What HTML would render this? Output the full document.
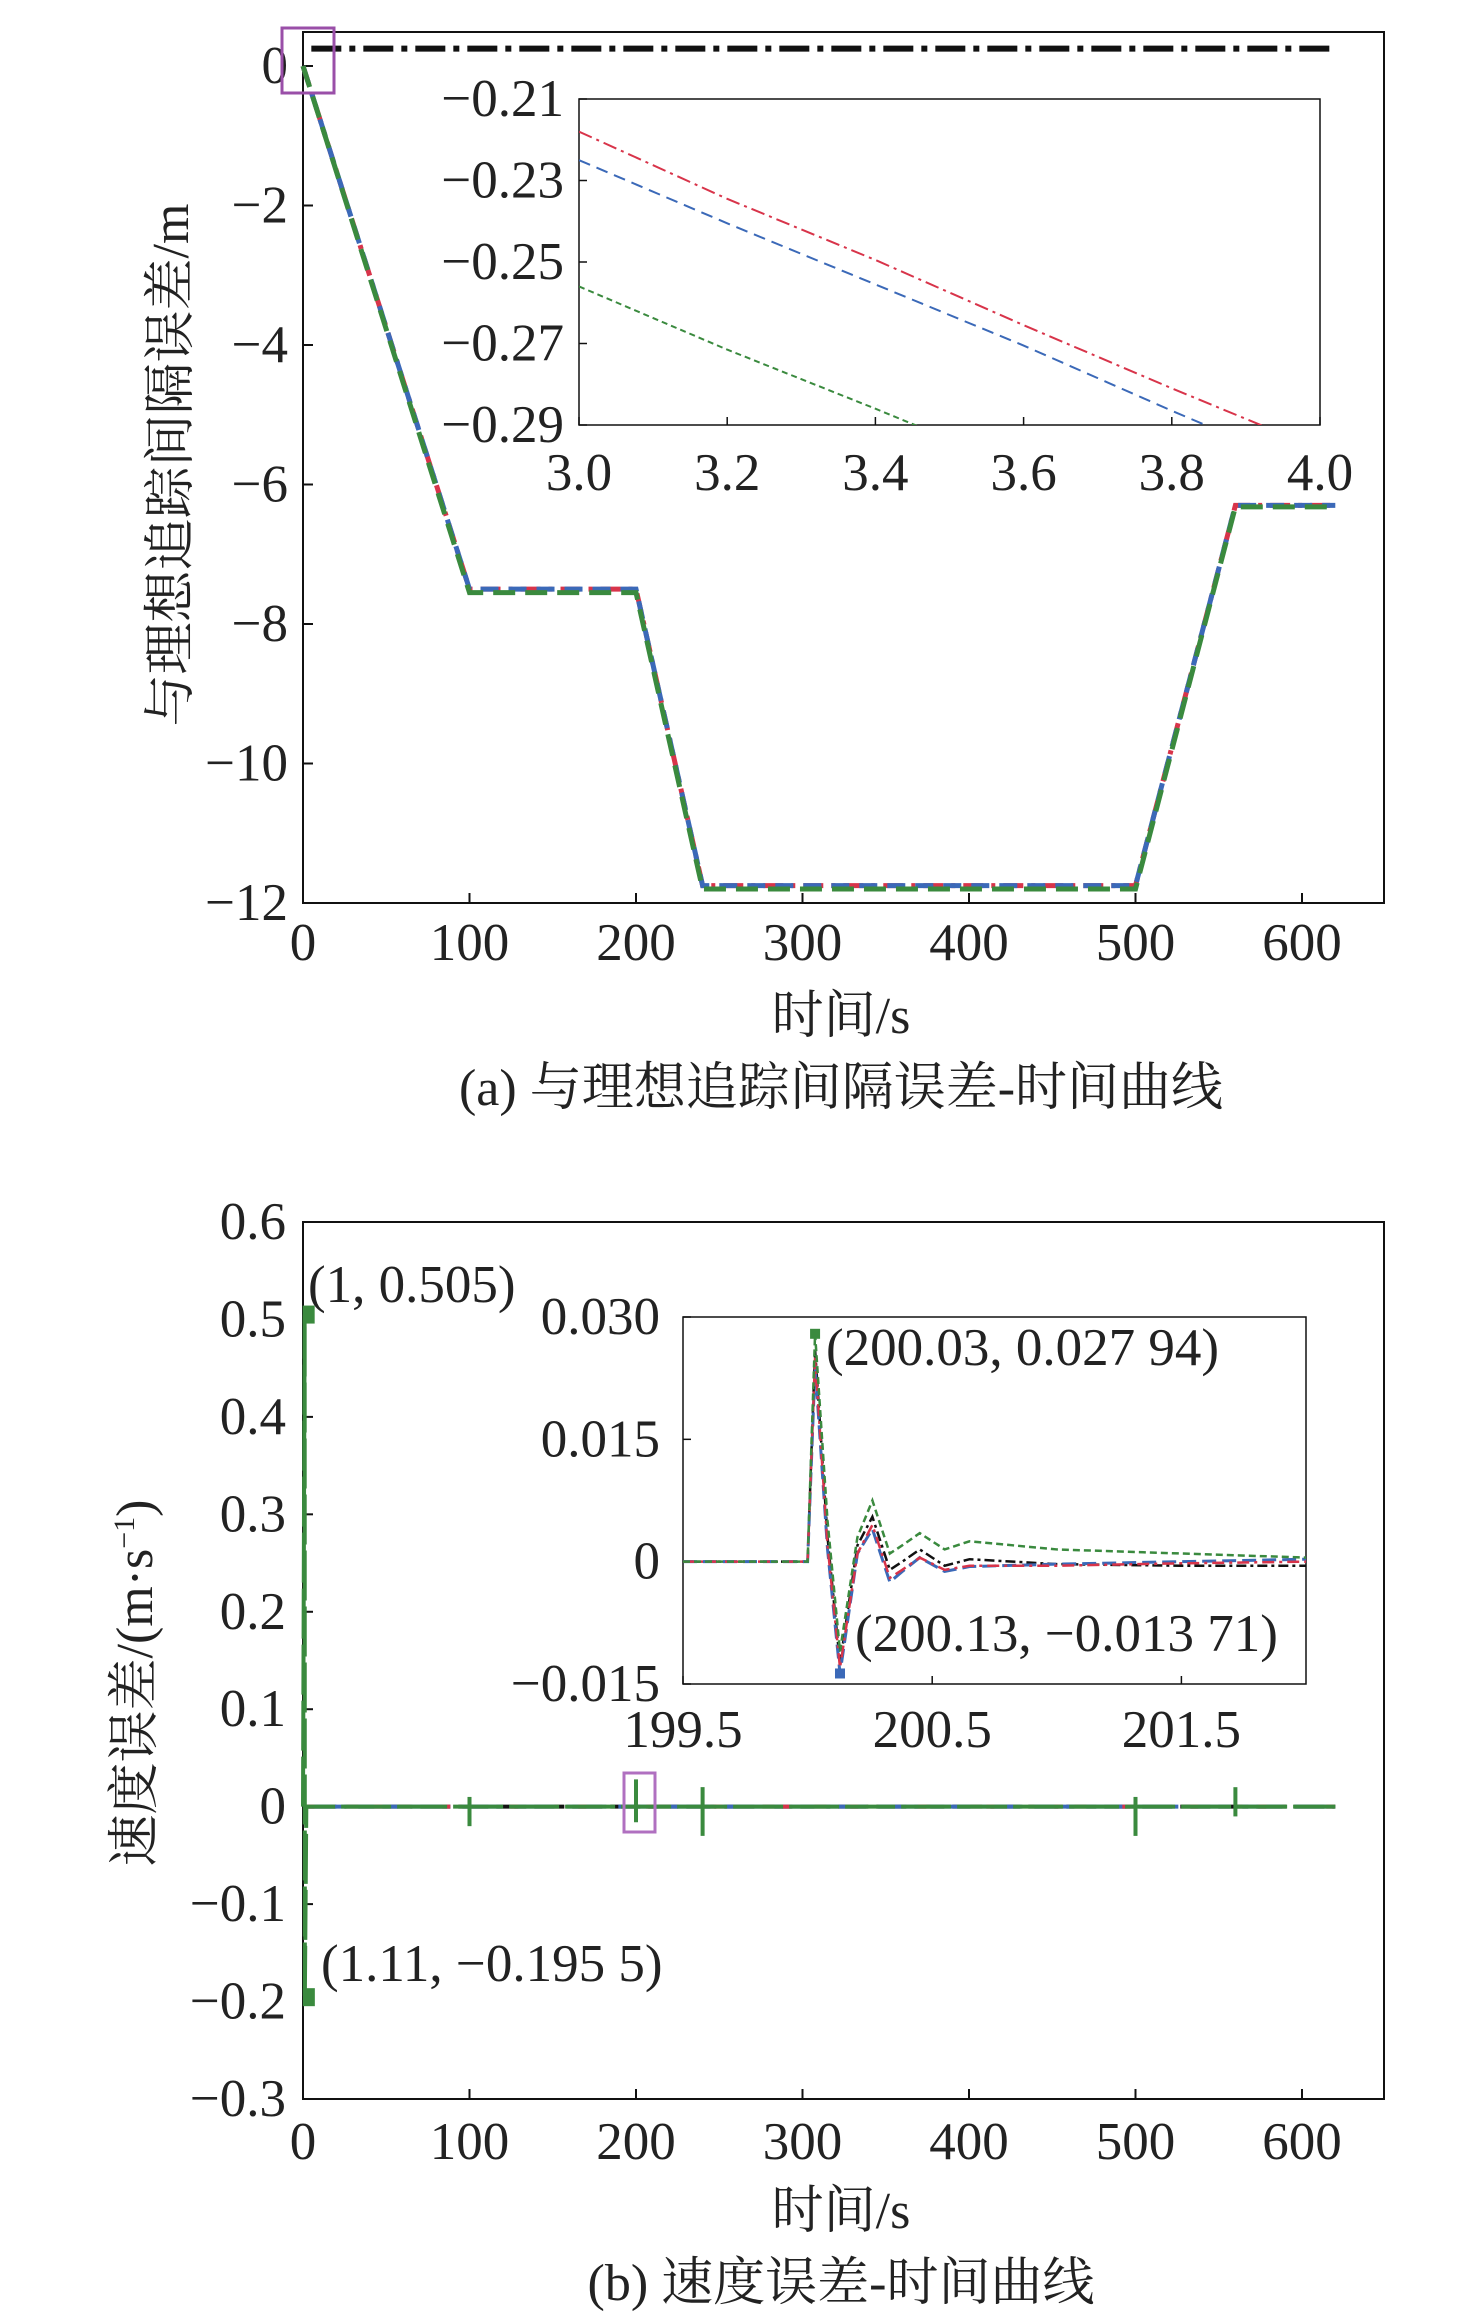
<!DOCTYPE html>
<html><head><meta charset="utf-8"><style>
body{margin:0;background:#fff}
svg{display:block}
text{font-family:"Liberation Serif","Noto Serif CJK SC",serif;fill:#222}
</style></head><body>
<svg id="s" width="1476" height="2313" viewBox="0 0 1476 2313"></svg>
<script>
// ---- Chart (a) data ----
const aTimes=[0,100,200,240,500,560,620];
const aRed=[0,-7.5,-7.5,-11.75,-11.75,-6.3,-6.3];
const aBlue=[0,-7.5,-7.5,-11.75,-11.75,-6.3,-6.3];
const aGreen=[0,-7.55,-7.55,-11.8,-11.8,-6.32,-6.32];
const aBlackT=[5,620];
const aBlack=[0.25,0.25];
const aXTicks=[0,100,200,300,400,500,600];
const aYTicks=[0,-2,-4,-6,-8,-10,-12];
// inset (a)
const aiTimes=[3.0,3.2,3.4,3.6,3.8,4.0];
const aiRed=[-0.218,-0.2345,-0.2495,-0.2655,-0.281,-0.296];
const aiBlue=[-0.225,-0.2405,-0.2555,-0.2705,-0.2865,-0.302];
const aiGreen=[-0.256,-0.2715,-0.286,-0.301,-0.316,-0.331];
const aiXTicks=[3.0,3.2,3.4,3.6,3.8,4.0];
const aiYTicks=[-0.21,-0.23,-0.25,-0.27,-0.29];
// ---- Chart (b) data ----
const bTimes=[0,1,1.11,2,620];
const bGreen=[0,0.505,-0.1955,0,0];
const bSpikeT=[100,200,240,500,560];
const bSpikeUp=[0.01,0.028,0.02,0.01,0.02];
const bSpikeDn=[-0.02,-0.016,-0.03,-0.03,-0.01];
const bXTicks=[0,100,200,300,400,500,600];
const bYTicks=[0.6,0.5,0.4,0.3,0.2,0.1,0,-0.1,-0.2,-0.3];
const bYLabels=["0.6","0.5","0.4","0.3","0.2","0.1","0","\u22120.1","\u22120.2","\u22120.3"];
// inset (b)
const biTimes=[199.5,199.99,200.0,200.03,200.08,200.13,200.2,200.26,200.33,200.38,200.45,200.55,200.65,201,201.5,202];
const biGreen=[0,0,0,0.02794,0.005,-0.011,0.003,0.0075,0.001,0.002,0.0035,0.0015,0.0025,0.0015,0.001,0.0005];
const biBlack=[0,0,0,0.026,0.003,-0.0125,0.002,0.0055,-0.001,0,0.0015,-0.0005,0.0003,-0.0003,-0.0005,-0.0005];
const biRed=[0,0,0,0.025,0.002,-0.013,0.001,0.0045,-0.002,-0.001,0.0005,-0.001,-0.0005,-0.0005,-0.0002,0];
const biBlue=[0,0,0,0.024,0.0015,-0.01371,0.001,0.004,-0.0025,-0.0012,0.0005,-0.0012,-0.0006,-0.0003,0,0.0003];
const biXTicks=[199.5,200.5,201.5];
const biYTicks=[0.030,0.015,0,-0.015];
const biYLabels=["0.030","0.015","0","\u22120.015"];

const NS="http://www.w3.org/2000/svg";
const svg=document.getElementById('s');
function el(tag,attrs,parent,txt){const e=document.createElementNS(NS,tag);for(const k in attrs)e.setAttribute(k,attrs[k]);if(txt!==undefined)e.textContent=txt;(parent||svg).appendChild(e);return e;}
function scale(d0,d1,r0,r1){return v=>r0+(v-d0)/(d1-d0)*(r1-r0);}
const RED="#d8344a",BLUE="#3b69b8",GREEN="#3a8a3e",BLACK="#111";
const FS=53, TS=52;
function line(xs,ys,X,Y,color,w,dash,clip,name){
  const p=el('polyline',{points:xs.map((t,i)=>X(t)+','+Y(ys[i])).join(' '),fill:'none',stroke:color,'stroke-width':w,'stroke-dasharray':dash});
  if(clip)p.setAttribute('clip-path','url(#'+clip+')');
  
  
  return p;
}
function fmt(v){return (v<0?"\u2212":"")+Math.abs(v);}
const defs=el('defs',{});

// ===== Chart (a) =====
{
const L=303,R=1384,T=32,B=903;
const X=scale(0,600,303,1302),Y=scale(0,-12,66,903);
const fr=el('rect',{x:L,y:T,width:R-L,height:B-T,fill:'none',stroke:'#111','stroke-width':2});

aXTicks.forEach(t=>{el('line',{x1:X(t),x2:X(t),y1:B,y2:B-10,stroke:'#111','stroke-width':2});
 const tx=el('text',{x:X(t),y:B+57,'font-size':FS,'text-anchor':'middle'},svg,String(t));
 });
aYTicks.forEach(t=>{el('line',{x1:L,x2:L+10,y1:Y(t),y2:Y(t),stroke:'#111','stroke-width':2});
 const tx=el('text',{x:288,y:Y(t)+17,'font-size':FS,'text-anchor':'end'},svg,fmt(t));
 });
line(aBlackT,aBlack,X,Y,BLACK,6,'30 8 6 8',null,'series-black-a');
line(aTimes,aRed,X,Y,RED,5,'20 8 4 8',null,'series-red-a');
line(aTimes,aBlue,X,Y,BLUE,5,'18 10',null,'series-blue-a');
line(aTimes,aGreen,X,Y,GREEN,5,'22 10',null,'series-green-a');
const pb=el('rect',{x:282,y:28,width:52,height:65,fill:'none',stroke:'#9a4fa8','stroke-width':3});

// inset
const iL=579,iR=1320,iT=99,iB=425;
const IX=scale(3.0,4.0,iL,iR),IY=scale(-0.21,-0.29,iT,iB);
el('rect',{x:iL,y:iT,width:iR-iL,height:iB-iT,fill:'#fff',stroke:'#111','stroke-width':1.5});
const cp=el('clipPath',{id:'ca'},defs);el('rect',{x:iL,y:iT,width:iR-iL,height:iB-iT},cp);
aiXTicks.forEach(t=>{el('line',{x1:IX(t),x2:IX(t),y1:iB,y2:iB-8,stroke:'#111','stroke-width':1.5});
 const tx=el('text',{x:IX(t),y:490,'font-size':FS,'text-anchor':'middle'},svg,t.toFixed(1));
 });
aiYTicks.forEach(t=>{el('line',{x1:iL,x2:iL+8,y1:IY(t),y2:IY(t),stroke:'#111','stroke-width':1.5});
 const tx=el('text',{x:564,y:IY(t)+17,'font-size':FS,'text-anchor':'end'},svg,fmt(t));
 });
line(aiTimes,aiRed,IX,IY,RED,2,'14 5 3 5','ca','inset-series-red-a');
line(aiTimes,aiBlue,IX,IY,BLUE,2,'12 7','ca','inset-series-blue-a');
line(aiTimes,aiGreen,IX,IY,GREEN,2,'6 4','ca','inset-series-green-a');
const yt=el('text',{transform:'translate(188,465) rotate(-90)','font-size':TS,'text-anchor':'middle'},svg,'与理想追踪间隔误差/m');

const xt=el('text',{x:841,y:1033,'font-size':TS,'text-anchor':'middle'},svg,'时间/s');

const cap=el('text',{x:841,y:1105,'font-size':TS,'text-anchor':'middle'},svg,'(a) 与理想追踪间隔误差-时间曲线');

}

// ===== Chart (b) =====
{
const L=303,R=1384,T=1222,B=2099;
const X=scale(0,600,303,1302),Y=scale(0.6,-0.3,T,B);
const fr=el('rect',{x:L,y:T,width:R-L,height:B-T,fill:'none',stroke:'#111','stroke-width':2});

bXTicks.forEach(t=>{el('line',{x1:X(t),x2:X(t),y1:B,y2:B-10,stroke:'#111','stroke-width':2});
 const tx=el('text',{x:X(t),y:B+60,'font-size':FS,'text-anchor':'middle'},svg,String(t));
 });
bYTicks.forEach((t,i)=>{el('line',{x1:L,x2:L+10,y1:Y(t),y2:Y(t),stroke:'#111','stroke-width':2});
 const tx=el('text',{x:286,y:Y(t)+17,'font-size':FS,'text-anchor':'end'},svg,bYLabels[i]);
 });
line([2,620],[0,0],X,Y,BLACK,4,'30 8',null,'series-black-b');
line([2,620],[0,0],X,Y,BLUE,4,'40 12',null,'series-blue-b');
line([2,620],[0,0],X,Y,RED,4,'8 60',null,'series-red-b');
line(bTimes,bGreen,X,Y,GREEN,4,'50 6',null,'series-green-b');
bSpikeT.forEach((t,i)=>{const s=el('line',{x1:X(t),x2:X(t),y1:Y(bSpikeUp[i]),y2:Y(bSpikeDn[i]),stroke:GREEN,'stroke-width':4});
 });
[[1,0.505],[1.11,-0.1955]].forEach(p=>{const m=el('rect',{x:X(p[0])-2,y:Y(p[1])-9,width:12,height:18,fill:GREEN});
 });
const l1=el('text',{x:308,y:1302,'font-size':FS},svg,'(1, 0.505)');
const l2=el('text',{x:321,y:1981,'font-size':FS},svg,'(1.11, \u22120.195 5)');
const pb=el('rect',{x:624,y:1773,width:31,height:59,fill:'none',stroke:'#b070c0','stroke-width':3});

// inset
const iL=683,iR=1306,iT=1317,iB=1684;
const IX=scale(199.5,202,iL,iR),IY=scale(0.030,-0.015,iT,iB);
el('rect',{x:iL,y:iT,width:iR-iL,height:iB-iT,fill:'#fff',stroke:'#111','stroke-width':1.5});
biXTicks.forEach(t=>{el('line',{x1:IX(t),x2:IX(t),y1:iB,y2:iB-8,stroke:'#111','stroke-width':1.5});
 const tx=el('text',{x:IX(t),y:1747,'font-size':FS,'text-anchor':'middle'},svg,t.toFixed(1));
 });
biYTicks.forEach((t,i)=>{el('line',{x1:iL,x2:iL+8,y1:IY(t),y2:IY(t),stroke:'#111','stroke-width':1.5});
 const tx=el('text',{x:660,y:IY(t)+17,'font-size':FS,'text-anchor':'end'},svg,biYLabels[i]);
 });
line(biTimes,biBlack,IX,IY,BLACK,2.5,'10 4 3 4',null,'inset-series-black-b');
line(biTimes,biBlue,IX,IY,BLUE,3,'14 6',null,'inset-series-blue-b');
line(biTimes,biRed,IX,IY,RED,2.5,'12 5 3 5',null,'inset-series-red-b');
line(biTimes,biGreen,IX,IY,GREEN,2.5,'7 4',null,'inset-series-green-b');
const m1=el('rect',{x:IX(200.03)-5,y:IY(0.02794)-5,width:10,height:10,fill:GREEN});
const m2=el('rect',{x:IX(200.13)-5,y:IY(-0.01371)-5,width:10,height:10,fill:BLUE});
const l3=el('text',{x:826,y:1365,'font-size':FS},svg,'(200.03, 0.027 94)');
const l4=el('text',{x:855,y:1651,'font-size':FS},svg,'(200.13, \u22120.013 71)');
const yt=el('text',{transform:'translate(152,1683) rotate(-90)','font-size':TS,'text-anchor':'middle'},svg);

el('tspan',{},yt,'速度误差/(m·s');
el('tspan',{dy:-18,'font-size':30},yt,'\u22121');
el('tspan',{dy:18},yt,')');
const xt=el('text',{x:841,y:2228,'font-size':TS,'text-anchor':'middle'},svg,'时间/s');

const cap=el('text',{x:841,y:2300,'font-size':TS,'text-anchor':'middle'},svg,'(b) 速度误差-时间曲线');

}
</script>
</body></html>
